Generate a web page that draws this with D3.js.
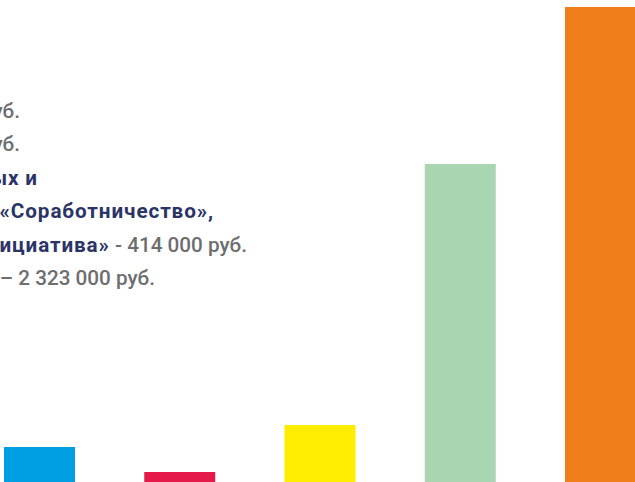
<!DOCTYPE html>
<html>
<head>
<meta charset="utf-8">
<script src="https://cdn.jsdelivr.net/npm/d3@7"></script>
<style>
  html, body { margin: 0; padding: 0; background: #ffffff; overflow: hidden; }
  svg { display: block; }
</style>
</head>
<body>
<svg id="chart" width="635" height="482"></svg>
<script>
// Data (bar heights, relative units)
const categories = ["A", "B", "C", "D", "E"];
const values = [35, 10, 57, 318, 475];
const colors = ["#009fe3", "#e6194b", "#ffed00", "#a9d5b0", "#ef7f1a"];

// Text lines (visible fragments; left part is cut off in the reference)
const lineTexts = [
  [{t: "уб.", c: "gray"}],
  [{t: "уб.", c: "gray"}],
  [{t: "ых и", c: "navy"}],
  [{t: "«Соработничество»,", c: "navy"}],
  [{t: "ициатива»", c: "navy"}, {t: " - 414 000 руб.", c: "gray"}],
  [{t: "– 2 323 000 руб.", c: "gray"}]
];
const lineEnds = [20, 20, 38, 214, 247, 155];

const W = 635, H = 482;
const svg = d3.select("#chart");

const x = d3.scaleBand()
  .domain(categories)
  .range([4, 636])
  .paddingInner(0.4938)
  .paddingOuter(0);

const y = d3.scaleLinear()
  .domain([0, d3.max(values)])
  .range([482, 7]);

svg.append("g")
  .selectAll("rect")
  .data(categories)
  .join("rect")
  .attr("x", d => x(d))
  .attr("width", x.bandwidth())
  .attr("y", (d, i) => y(values[i]))
  .attr("height", (d, i) => y(0) - y(values[i]))
  .attr("fill", (d, i) => colors[i]);

const styles = {
  gray: {fill: "#6e6e6e", weight: 500, ls: 0},
  navy: {fill: "#2b3467", weight: 700, ls: 0.9}
};

const baseY = 117.5, lineStep = 33.5;
const tg = svg.append("g")
  .attr("font-family", "Roboto, 'Noto Sans', sans-serif")
  .attr("font-size", 20.7);

lineTexts.forEach((parts, i) => {
  const t = tg.append("text")
    .attr("x", lineEnds[i])
    .attr("y", baseY + i * lineStep)
    .attr("text-anchor", "end");
  parts.forEach(p => {
    t.append("tspan")
      .text(p.t)
      .attr("fill", styles[p.c].fill)
      .attr("font-weight", styles[p.c].weight)
      .attr("letter-spacing", styles[p.c].ls);
  });
});
</script>
</body>
</html>
